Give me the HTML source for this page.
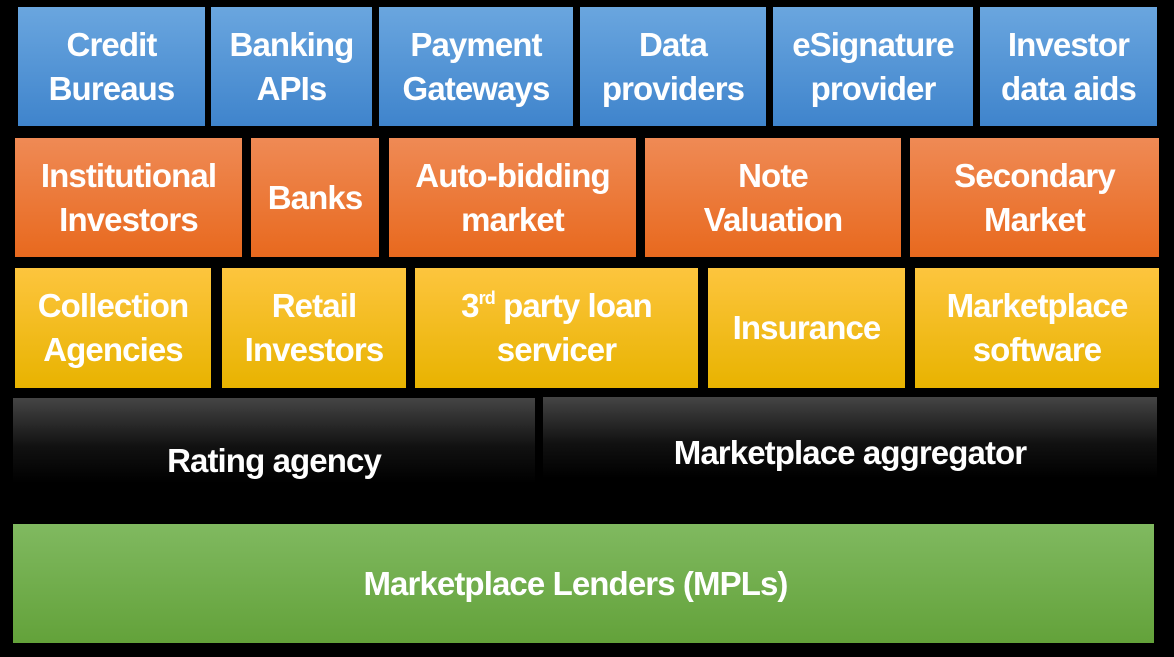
<!DOCTYPE html>
<html><head><meta charset="utf-8"><style>
html,body{margin:0;padding:0;background:#000;}
body{width:1174px;height:657px;position:relative;overflow:hidden;font-family:"Liberation Sans",Arial,sans-serif;font-weight:bold;color:#fff;}
.b{position:absolute;display:flex;align-items:center;justify-content:center;text-align:center;font-size:33px;line-height:44px;letter-spacing:-0.9px;}
.bl{background:linear-gradient(#6aa6df,#3f84cc);}
.or{background:linear-gradient(#ef8a55,#e8691e);}
.ye{background:linear-gradient(#fdc53e,#e8b300);}
.dk{background:linear-gradient(#454545,#111 40%,#000 70%);}
.gr{background:linear-gradient(#80b960,#63a23a);}
sup{font-size:18px;line-height:0;vertical-align:13px;}
</style></head><body>
<div class="b bl" style="left:18px;top:7px;width:187px;height:119px"><span>Credit<br>Bureaus</span></div>
<div class="b bl" style="left:211px;top:7px;width:161px;height:119px"><span>Banking<br>APIs</span></div>
<div class="b bl" style="left:379px;top:7px;width:194px;height:119px"><span>Payment<br>Gateways</span></div>
<div class="b bl" style="left:580px;top:7px;width:186px;height:119px"><span>Data<br>providers</span></div>
<div class="b bl" style="left:773px;top:7px;width:200px;height:119px"><span>eSignature<br>provider</span></div>
<div class="b bl" style="left:980px;top:7px;width:177px;height:119px"><span>Investor<br>data aids</span></div>

<div class="b or" style="left:15px;top:138px;width:227px;height:119px"><span>Institutional<br>Investors</span></div>
<div class="b or" style="left:251px;top:138px;width:128px;height:119px"><span>Banks</span></div>
<div class="b or" style="left:389px;top:138px;width:247px;height:119px"><span>Auto-bidding<br>market</span></div>
<div class="b or" style="left:645px;top:138px;width:256px;height:119px"><span>Note<br>Valuation</span></div>
<div class="b or" style="left:910px;top:138px;width:249px;height:119px"><span>Secondary<br>Market</span></div>

<div class="b ye" style="left:15px;top:268px;width:196px;height:120px"><span>Collection<br>Agencies</span></div>
<div class="b ye" style="left:222px;top:268px;width:184px;height:120px"><span>Retail<br>Investors</span></div>
<div class="b ye" style="left:415px;top:268px;width:283px;height:120px"><span>3<sup>rd</sup> party loan<br>servicer</span></div>
<div class="b ye" style="left:708px;top:268px;width:197px;height:120px"><span>Insurance</span></div>
<div class="b ye" style="left:915px;top:268px;width:244px;height:120px"><span>Marketplace<br>software</span></div>

<div class="b dk" style="left:13px;top:398px;width:522px;height:122px;padding-top:4px;box-sizing:border-box"><span>Rating agency</span></div>
<div class="b dk" style="left:543px;top:397px;width:614px;height:116px;padding-bottom:4px;box-sizing:border-box"><span>Marketplace aggregator</span></div>

<div class="b gr" style="left:13px;top:524px;width:1141px;height:119px;padding-right:16px;box-sizing:border-box"><span>Marketplace Lenders (MPLs)</span></div>
</body></html>
